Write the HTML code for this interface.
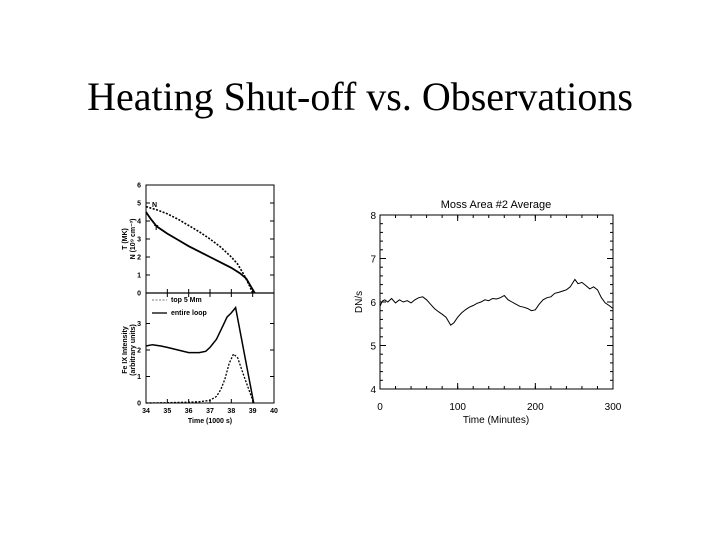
<!DOCTYPE html>
<html><head><meta charset="utf-8"><style>
body{margin:0;background:#fff;width:720px;height:540px;overflow:hidden}
svg{position:absolute;left:0;top:0}
</style></head><body>
<svg width="720" height="540" viewBox="0 0 720 540">
<text x="360" y="110" text-anchor="middle" font-family="Liberation Serif, serif" font-size="40">Heating Shut-off vs. Observations</text>
<g id="left"></g>
<g id="right"></g>
</svg>
<script>
// Left chart data (time in 1000 s)
const nTime=[34,34.5,35,35.5,36,36.5,37,37.5,38,38.3,38.6,38.85,39];
const nVals=[4.8,4.62,4.4,4.1,3.75,3.4,3.0,2.55,2.0,1.6,1.0,0.4,0];
const tTime=[34,34.2,34.5,35,35.5,36,36.5,37,37.5,38,38.4,38.7,38.9,39.1];
const tVals=[4.5,4.15,3.7,3.3,2.95,2.6,2.3,2.0,1.7,1.4,1.1,0.8,0.4,0];
const solidTime=[34,34.3,34.7,35,35.5,36,36.5,36.8,37,37.3,37.6,37.8,38,38.2,39.05];
const solidVals=[2.15,2.2,2.15,2.1,2.0,1.9,1.9,1.95,2.1,2.4,2.9,3.25,3.4,3.6,0];
const dashTime=[34,35,36,36.5,37,37.3,37.5,37.7,37.9,38.1,38.3,38.6,39.05];
const dashVals=[0,0.01,0.03,0.05,0.1,0.25,0.5,0.9,1.5,1.85,1.7,1.0,0];
const leftXTicks=[34,35,36,37,38,39,40];
const topYTicks=[0,1,2,3,4,5,6];
const botYTicks=[0,1,2,3];
// Right chart data
const minutes=[0,3,6,10,15,20,25,30,35,40,45,50,55,60,65,70,75,80,85,91,95,100,105,110,115,120,125,130,135,140,145,150,155,160,165,170,175,180,185,190,195,200,205,210,215,220,225,230,235,240,245,251,255,260,265,270,275,280,285,290,295,300];
const dnValues=[5.9,6.02,6.05,6.0,6.08,5.98,6.05,6.0,6.03,5.98,6.05,6.1,6.12,6.05,5.95,5.85,5.78,5.72,5.65,5.47,5.52,5.65,5.75,5.82,5.88,5.92,5.97,6.0,6.05,6.03,6.08,6.07,6.1,6.15,6.05,6.0,5.95,5.9,5.88,5.85,5.8,5.82,5.95,6.05,6.1,6.12,6.2,6.22,6.25,6.28,6.35,6.52,6.42,6.45,6.38,6.3,6.35,6.28,6.1,5.98,5.92,5.85];
const rightXTicks=[0,100,200,300];
const rightYTicks=[4,5,6,7,8];

const NS='http://www.w3.org/2000/svg';
function mk(parent,tag,attrs,txt){const e=document.createElementNS(NS,tag);for(const k in attrs)e.setAttribute(k,attrs[k]);if(txt!==undefined)e.textContent=txt;parent.appendChild(e);return e;}
const L=document.getElementById('left'),R=document.getElementById('right');
const lx=v=>146+(v-34)*(128/6);
const ty=v=>293-v*18;
const by=v=>403-v*26.5;
let e;
e=mk(L,'rect',{x:146,y:185,width:128,height:218,fill:'none',stroke:'#000','stroke-width':1});

mk(L,'line',{x1:146,y1:293,x2:274,y2:293,stroke:'#000','stroke-width':1.2});
const sf='font-family:Liberation Sans,sans-serif;font-weight:bold;font-size:7px';
leftXTicks.forEach(t=>{
 mk(L,'line',{x1:lx(t),y1:403,x2:lx(t),y2:399,stroke:'#000'});
 mk(L,'line',{x1:lx(t),y1:293,x2:lx(t),y2:289,stroke:'#000'});
 mk(L,'line',{x1:lx(t),y1:293,x2:lx(t),y2:297,stroke:'#000'});
 e=mk(L,'text',{x:lx(t),y:413,'text-anchor':'middle',style:sf},String(t));
 
});
topYTicks.forEach(t=>{mk(L,'line',{x1:146,y1:ty(t),x2:150,y2:ty(t),stroke:'#000'});mk(L,'line',{x1:274,y1:ty(t),x2:270,y2:ty(t),stroke:'#000'});
 e=mk(L,'text',{x:141,y:ty(t)+2.5,'text-anchor':'end',style:sf},String(t));
 });
botYTicks.forEach(t=>{mk(L,'line',{x1:146,y1:by(t),x2:150,y2:by(t),stroke:'#000'});mk(L,'line',{x1:274,y1:by(t),x2:270,y2:by(t),stroke:'#000'});
 e=mk(L,'text',{x:141,y:by(t)+2.5,'text-anchor':'end',style:sf},String(t));
 });
e=mk(L,'text',{x:210,y:423,'text-anchor':'middle',style:sf},'Time (1000 s)');

e=mk(L,'text',{transform:'translate(127,239) rotate(-90)','text-anchor':'middle',style:sf},'T (MK)');

e=mk(L,'text',{transform:'translate(135,239) rotate(-90)','text-anchor':'middle',style:sf},'N (10⁹ cm⁻³)');

e=mk(L,'text',{transform:'translate(127,350) rotate(-90)','text-anchor':'middle',style:sf},'Fe IX Intensity');

e=mk(L,'text',{transform:'translate(135,350) rotate(-90)','text-anchor':'middle',style:sf},'(arbitrary units)');

function line(par,xs,ys,fx,fy,dash,w,name){const d=xs.map((x,i)=>(i?'L':'M')+fx(x).toFixed(1)+','+fy(ys[i]).toFixed(1)).join('');
 const p=mk(par,'path',{d:d,fill:'none',stroke:'#000','stroke-width':w});if(dash)p.setAttribute('stroke-dasharray',dash);
 
 return p;}
line(L,nTime,nVals,lx,ty,'2,1.5',1.6,'density-line');
line(L,tTime,tVals,lx,ty,null,1.8,'temperature-line');
line(L,solidTime,solidVals,lx,by,null,1.5,'entire-loop-line');
line(L,dashTime,dashVals,lx,by,'2,1.5',1.3,'top-5mm-line');
e=mk(L,'text',{x:152,y:207,style:sf},'N');
e=mk(L,'text',{x:154,y:230,style:sf},'T');
mk(L,'line',{x1:152,y1:300,x2:167,y2:300,stroke:'#777','stroke-dasharray':'2,1.5'});
e=mk(L,'text',{x:171,y:302,style:sf},'top 5 Mm');
mk(L,'line',{x1:152,y1:313,x2:167,y2:313,stroke:'#000','stroke-width':1.3});
e=mk(L,'text',{x:171,y:315,style:sf},'entire loop');

const rx=v=>380+v*(233/300);
const ry=v=>389-(v-4)*43.5;
e=mk(R,'rect',{x:380,y:215,width:233,height:174,fill:'none',stroke:'#000','stroke-width':1});

const rf='font-family:Liberation Sans,sans-serif;font-size:10px';
rightXTicks.forEach(t=>{mk(R,'line',{x1:rx(t),y1:389,x2:rx(t),y2:383,stroke:'#000'});mk(R,'line',{x1:rx(t),y1:215,x2:rx(t),y2:221,stroke:'#000'});
 e=mk(R,'text',{x:rx(t),y:410,'text-anchor':'middle',style:rf},String(t));
 });
for(let t=0;t<=300;t+=20){mk(R,'line',{x1:rx(t),y1:389,x2:rx(t),y2:386,stroke:'#000'});mk(R,'line',{x1:rx(t),y1:215,x2:rx(t),y2:218,stroke:'#000'});}
rightYTicks.forEach(t=>{mk(R,'line',{x1:380,y1:ry(t),x2:386,y2:ry(t),stroke:'#000'});mk(R,'line',{x1:613,y1:ry(t),x2:607,y2:ry(t),stroke:'#000'});
 e=mk(R,'text',{x:376,y:ry(t)+4,'text-anchor':'end',style:rf},String(t));
 });
for(let t=4;t<=8;t+=0.2){mk(R,'line',{x1:380,y1:ry(t),x2:383,y2:ry(t),stroke:'#000'});mk(R,'line',{x1:613,y1:ry(t),x2:610,y2:ry(t),stroke:'#000'});}
e=mk(R,'text',{x:496,y:208,'text-anchor':'middle',style:rf+';font-size:11px'},'Moss Area #2 Average');

e=mk(R,'text',{x:496,y:423,'text-anchor':'middle',style:rf},'Time (Minutes)');

e=mk(R,'text',{transform:'translate(362,302) rotate(-90)','text-anchor':'middle',style:rf},'DN/s');

line(R,minutes,dnValues,rx,ry,null,1,'moss-intensity-line');
</script>
</body></html>
